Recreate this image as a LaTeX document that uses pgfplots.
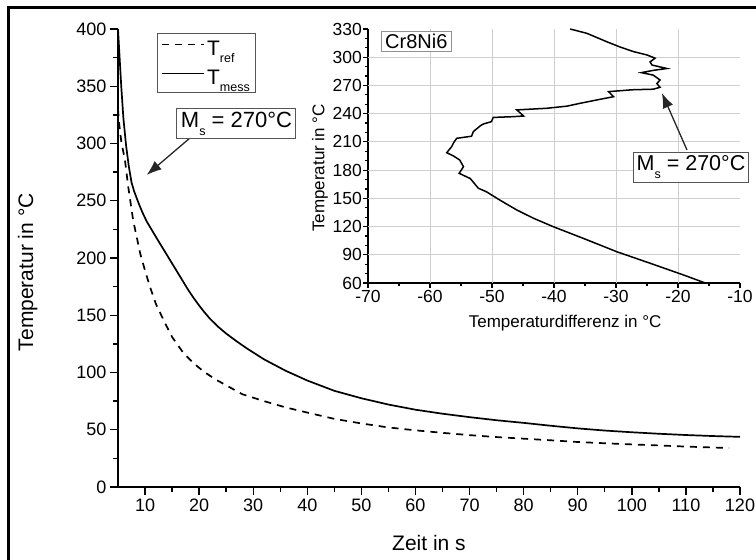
\documentclass[border=0pt]{standalone}
\usepackage{pgfplots}
\pgfplotsset{compat=1.18}
\usepackage{fontspec}
\setmainfont{Liberation Sans}
\usetikzlibrary{arrows.meta}
\definecolor{gridgray}{HTML}{CFCFCF}
\definecolor{boxgray}{HTML}{555555}
\newcommand{\sub}[1]{\raisebox{-0.7ex}{\fontsize{12.5}{12.5}\selectfont #1}}
\newcommand{\legfont}{\fontsize{21}{23}\selectfont}
\begin{document}
\begin{tikzpicture}[x=1pt,y=1pt]
\useasboundingbox (0,0) rectangle (756,560);
\draw[line width=3pt] (8,0) -- (8,552) -- (756,552);
% main axis
\begin{axis}[
  at={(118pt,73pt)}, anchor=south west, scale only axis,
  width=622pt, height=458pt,
  xmin=5, xmax=120, ymin=0, ymax=400,
  axis x line*=bottom, axis y line*=left,
  axis line style={line width=1.8pt},
  xtick={10,20,...,120}, minor x tick num=1,
  ytick={0,50,...,400}, minor y tick num=1,
  tick align=outside, major tick length=8pt, minor tick length=5pt,
  tick style={line width=1.4pt, black},
  /pgf/number format/assume math mode=true,
  tick label style={font=\fontsize{18}{20}\selectfont},
  xlabel={Zeit in s}, ylabel={Temperatur in °C},
  label style={font=\fontsize{21}{24}\selectfont},
  xlabel style={at={(axis description cs:0.5,-0.122)}, anchor=center},
  ylabel style={at={(axis description cs:-0.145,0.469)}, anchor=center},
  legend style={at={(rel axis cs:0.0627,0.991)}, anchor=north west,
    draw=boxgray, line width=1pt, font=\legfont,
    row sep=9pt, inner xsep=4pt, inner ysep=5pt},
  legend cell align=left,
  legend image code/.code={\draw[#1, line width=1.6pt] (0pt,4pt) -- (42pt,4pt);},
]
\addplot[black, line width=1.7pt, dash pattern=on 7pt off 6pt] coordinates {
(5.0,330) (5.2,318) (5.6,302) (6.3,285) (6.9,262) (7.8,233) (9.1,204)
(10.0,189) (10.9,175) (12,160) (13.4,146) (15,131) (17.1,117) (19,108)
(20.8,101) (23,94) (25.7,87) (28,81) (32,75) (36,69.5) (40,65) (45,59.5)
(50,55.5) (55,52) (60,49.5) (65,47.3) (70,45.3) (75,43.6) (80,42.2)
(85,40.8) (90,39.3) (95,38.2) (100,37.2) (105,36.3) (110,35.3) (115,34.5) (118,34)
};
\addlegendentry{\legfont T\sub{ref}\hspace{14pt}}
\addplot[black, line width=1.7pt] coordinates {
(5,400) (5.3,375) (5.6,350) (6.0,322) (6.5,298) (7.0,280) (7.5,266) (8.0,258)
(8.8,248) (9.5,240) (10.3,232) (12,218.5) (14,203) (16,187.5) (18,172)
(19,165) (20,158.5) (21,152.5) (22,147) (23.5,140) (25,134) (27,127)
(29,120.5) (32,111.5) (36,101.5) (40,93)
(45,84) (50,77.5) (55,72) (60,67.5) (65,64) (70,61) (75,58.3) (80,56)
(85,53.5) (90,51.2) (95,49.3) (100,47.8) (105,46.5) (110,45.4) (115,44.5) (120,43.8)
};
\addlegendentry{\legfont T\sub{mess}\hspace{8pt}}
\draw[-{Latex[length=15pt,width=11pt]}, line width=1.3pt, black!85]
  (axis cs:18.6,306) -- (axis cs:10.3,272.5);
\node[draw=boxgray, fill=white, line width=1pt, inner xsep=4pt, inner ysep=3pt,
  font=\fontsize{22}{24}\selectfont] at (axis cs:26.9,317.5) {M\sub{s} = 270°C};
\end{axis}
% inset axis
\begin{axis}[
  at={(368pt,277pt)}, anchor=south west, scale only axis,
  width=372pt, height=254pt,
  xmin=-70, xmax=-10, ymin=60, ymax=330, clip=false,
  axis x line*=bottom, axis y line*=left,
  axis line style={line width=1.8pt},
  xtick={-70,-60,...,-10}, minor x tick num=1,
  ytick={60,90,...,330}, minor y tick num=2,
  extra x ticks={-60,-50,...,-20}, extra x tick labels={},
  extra y ticks={90,120,...,300}, extra y tick labels={},
  extra tick style={grid=major, major tick length=0pt},
  grid style={gridgray, line width=0.9pt},
  tick align=outside, major tick length=5pt, minor tick length=3pt,
  tick style={line width=1.2pt, black},
  /pgf/number format/assume math mode=true,
  tick label style={font=\fontsize{17.5}{20}\selectfont},
  yticklabel style={inner xsep=1pt},
  xticklabel style={inner ysep=2pt},
  xlabel={Temperaturdifferenz in °C}, ylabel={Temperatur in °C},
  label style={font=\fontsize{17}{20}\selectfont},
  xlabel style={at={(axis description cs:0.53,-0.157)}, anchor=center},
  ylabel style={at={(axis description cs:-0.129,0.453)}, anchor=center},
]
\addplot[black, line width=1.5pt] coordinates {
(-37.4,330) (-34.7,325.4) (-31.5,316.5) (-29.4,311) (-27.2,306) (-25.0,302.4)
(-23.7,299) (-24.5,295) (-24.2,291.7) (-21.8,288) (-24,286) (-25.9,283.6)
(-24,281) (-22.9,275.8) (-23.4,272) (-22.9,268) (-24,266) (-27.4,265.4)
(-31.2,263.4) (-30.4,258) (-32.0,256) (-35.8,251) (-37.9,248) (-41.2,245.7)
(-46.0,244) (-44.9,237.5) (-46.6,236.8) (-49.8,236) (-50.1,231.5) (-51.4,229)
(-51.9,227) (-53.0,221) (-53.3,216) (-55.7,213.8) (-56.2,209) (-56.5,205)
(-57.3,198.5) (-56.2,195) (-55.2,190.7) (-54.6,183.6) (-55.3,176.6) (-53.5,171)
(-52.2,160.7) (-50.9,157) (-48.7,148) (-46.0,137.6) (-43.3,128.8) (-40.1,119.8)
(-35.3,107.5) (-29.9,93.3) (-24.5,81) (-19.1,68.5) (-15.6,60)
};
\node[draw=gridgray!70!black, fill=white, line width=1pt, inner xsep=4pt, inner ysep=3pt,
  font=\fontsize{20}{22}\selectfont] at (axis cs:-62.2,316.7) {Cr8Ni6};
\draw[-{Latex[length=15pt,width=11pt]}, line width=1.3pt, black!85]
  (axis cs:-18.55,201.4) -- (axis cs:-22.6,262);
\node[draw=boxgray, fill=white, line width=1pt, inner xsep=3pt, inner ysep=3pt,
  font=\fontsize{21.5}{24}\selectfont] at (axis cs:-17.9,182.8) {M\sub{s} = 270°C};
\end{axis}
\end{tikzpicture}
\end{document}
